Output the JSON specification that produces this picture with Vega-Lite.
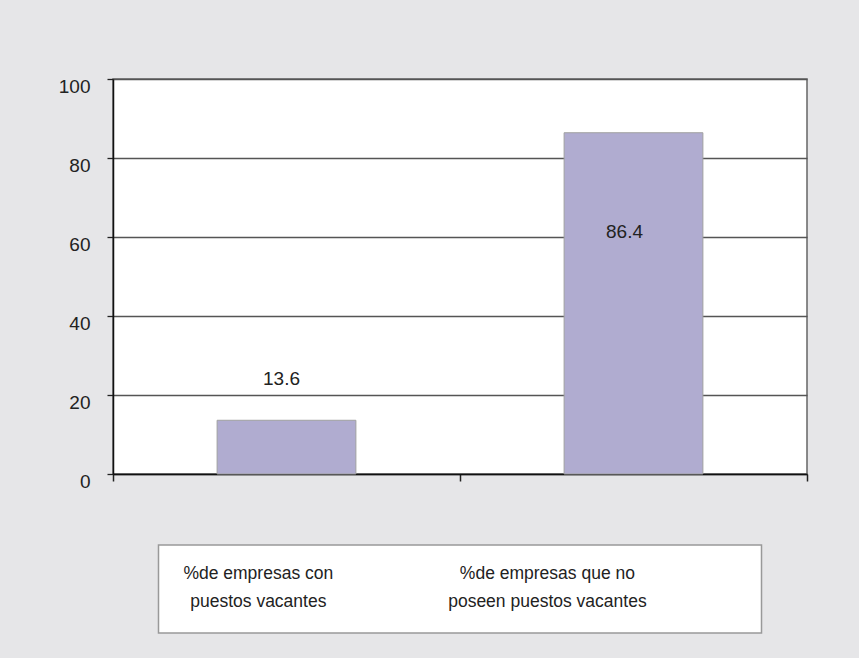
{
  "$schema": "https://vega.github.io/schema/vega-lite/v6.json",
  "autosize": {"type": "pad"},
  "padding": {"left": 57, "top": 76, "right": 53, "bottom": 26},
  "background": "#e6e6e8",
  "config": {"font": "Liberation Sans"},
  "datasets": {
    "bars": [
      {"cat": "%de empresas con puestos vacantes", "label": ["%de empresas con", "puestos vacantes"], "value": 13.6},
      {"cat": "%de empresas que no poseen puestos vacantes", "label": ["%de empresas que no", "poseen puestos vacantes"], "value": 86.4}
    ]
  },
  "bounds": "flush",
  "center": true,
  "spacing": 71,
  "vconcat": [
    {
      "width": 694,
      "height": 395,
      "data": {"name": "bars"},
      "view": {"fill": "white", "stroke": "#666", "strokeWidth": 1.5},
      "encoding": {
        "x": {
          "field": "cat", "type": "nominal", "sort": null,
          "scale": {"paddingInner": 0, "paddingOuter": 0},
          "axis": {"title": null, "labels": false, "bandPosition": 1, "tickExtra": true, "tickSize": 7, "tickColor": "#222", "tickWidth": 1.5, "domainColor": "#111", "domainWidth": 1.5, "grid": false}
        }
      },
      "layer": [
        {
          "mark": {"type": "bar", "width": {"band": 0.4}, "fill": "#b0acd0", "stroke": "#a0a0a0", "strokeWidth": 1},
          "encoding": {
            "y": {
              "field": "value", "type": "quantitative",
              "scale": {"domain": [0, 100], "nice": false},
              "axis": {"title": null, "values": [0, 20, 40, 60, 80, 100], "grid": true, "gridColor": "#555", "gridWidth": 1.3, "tickSize": 6, "tickColor": "#222", "tickWidth": 1.3, "domainColor": "#111", "domainWidth": 1.5, "labelPadding": 17, "labelOffset": 7, "labelFontSize": 19, "labelColor": "#222", "labelFont": "Liberation Sans"}
            }
          }
        },
        {
          "transform": [{"filter": "datum.value < 50"}],
          "mark": {"type": "text", "dy": -41, "dx": -5, "fontSize": 19, "color": "#222", "baseline": "middle"},
          "encoding": {
            "y": {"field": "value", "type": "quantitative"},
            "text": {"field": "value", "type": "quantitative", "format": ".1f"}
          }
        },
        {
          "transform": [{"filter": "datum.value >= 50"}],
          "mark": {"type": "text", "dy": 99, "dx": -9, "fontSize": 19, "color": "#222", "baseline": "middle"},
          "encoding": {
            "y": {"field": "value", "type": "quantitative"},
            "text": {"field": "value", "type": "quantitative", "format": ".1f"}
          }
        }
      ]
    },
    {
      "width": 603,
      "height": 88,
      "data": {"name": "bars"},
      "view": {"fill": "white", "stroke": "#999", "strokeWidth": 1.5},
      "mark": {"type": "text", "fontSize": 17.5, "lineHeight": 28, "dy": -15, "color": "#222", "baseline": "middle"},
      "encoding": {
        "x": {"field": "cat", "type": "nominal", "sort": null, "scale": {"type": "point", "padding": 0.543, "align": 0.318}, "axis": null},
        "text": {"field": "label"}
      }
    }
  ]
}
